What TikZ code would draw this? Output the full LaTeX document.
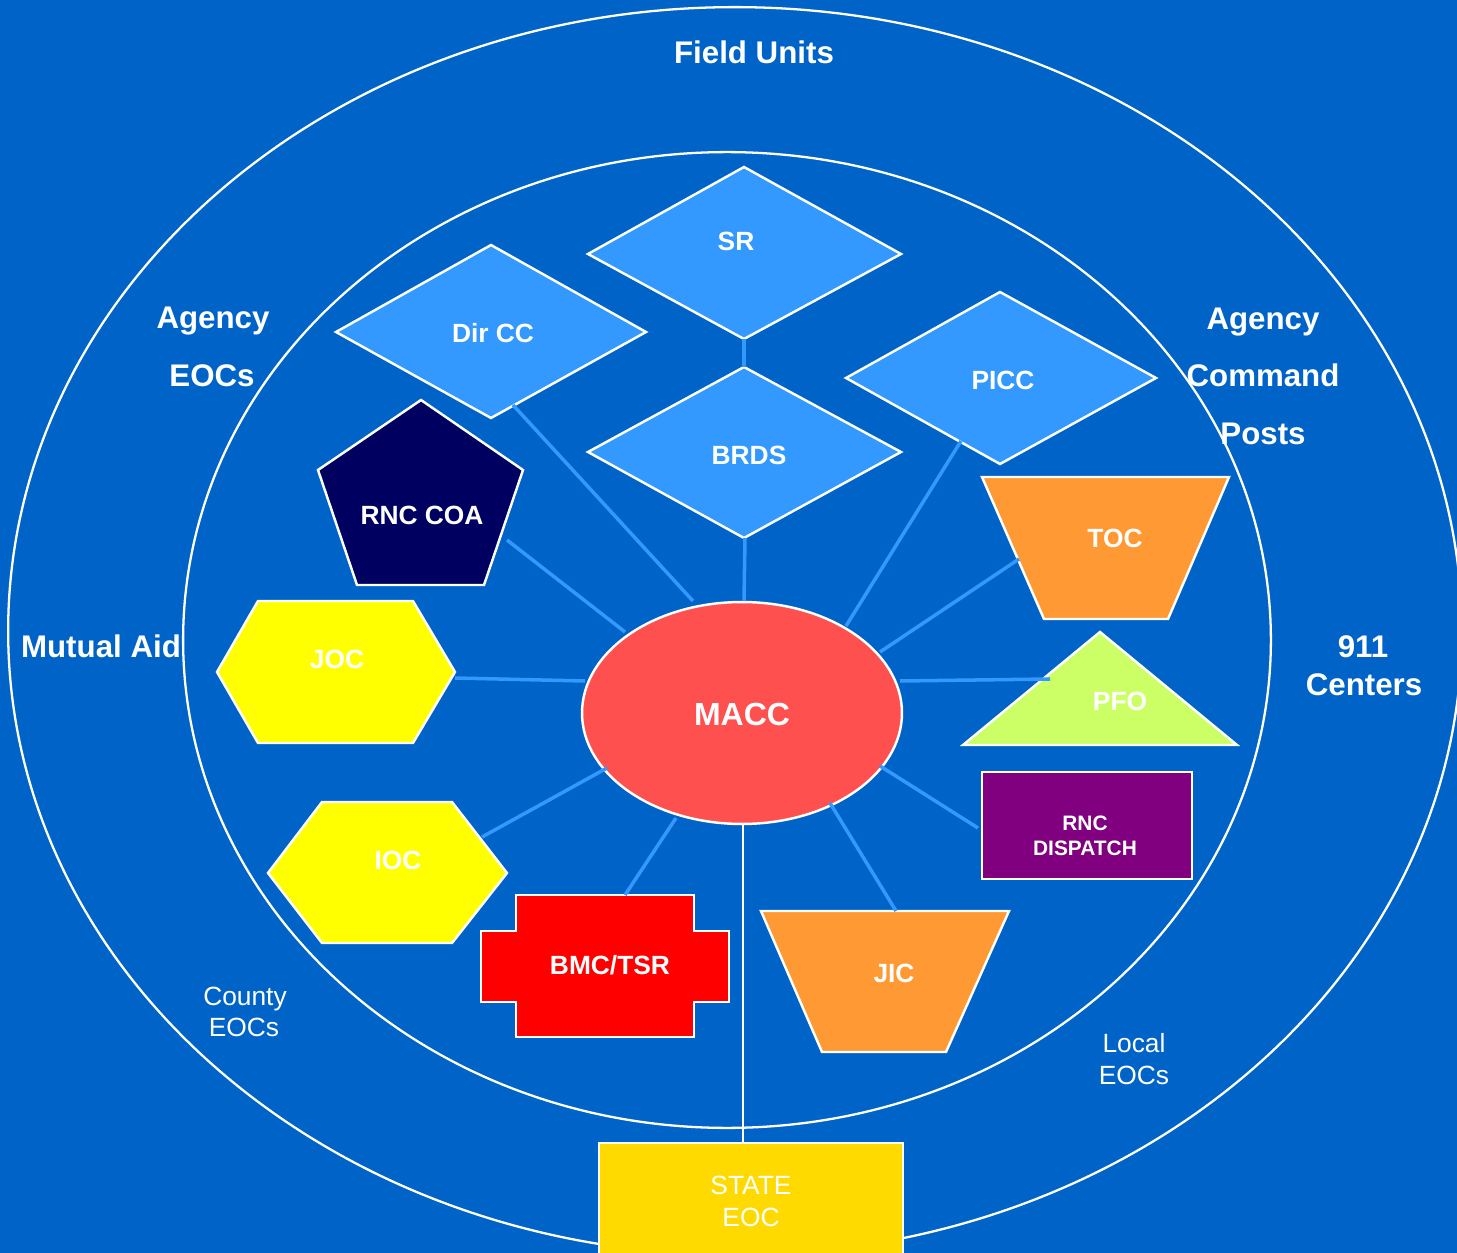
\documentclass[tikz,border=0pt]{standalone}
\usepackage{fontspec}
\setmainfont{Liberation Sans}
\definecolor{bgblue}{RGB}{0,99,200}
\definecolor{dblue}{RGB}{51,153,255}
\definecolor{linkblue}{RGB}{51,153,255}
\definecolor{navy}{RGB}{0,0,96}
\definecolor{hexyellow}{RGB}{255,255,0}
\definecolor{trorange}{RGB}{255,153,51}
\definecolor{pfogreen}{RGB}{204,255,102}
\definecolor{purp}{RGB}{128,0,128}
\definecolor{bmcred}{RGB}{255,0,0}
\definecolor{macc}{RGB}{255,80,80}
\definecolor{gold}{RGB}{255,218,0}
\begin{document}
\begin{tikzpicture}[x=0.02cm,y=-0.02cm,
  area/.style={text=white, font=\fontsize{17.8}{20}\selectfont\bfseries, anchor=base, inner sep=0pt},
  lbl/.style={text=white, font=\fontsize{15}{18}\selectfont\bfseries, text depth=0pt, inner sep=0pt},
  small/.style={text=white, font=\fontsize{11.9}{14}\selectfont\bfseries, anchor=base, inner sep=0pt},
  plain/.style={text=white, font=\fontsize{15}{17}\selectfont, anchor=base, inner sep=0pt},
  shp/.style={draw=white, line width=1.4pt, line join=miter},
  ring/.style={draw=white, line width=1.3pt},
  link/.style={draw=linkblue, line width=2pt},
  wlink/.style={draw=white, line width=1.2pt}]
\useasboundingbox (0,0) rectangle (1457,1253);
\fill[bgblue] (0,0) rectangle (1457,1253);
\clip (0,0) rectangle (1457,1253);

% rings
\draw[ring] (735,631) ellipse [x radius=14.54cm, y radius=12.48cm];
\draw[ring] (727,640) ellipse [x radius=10.88cm, y radius=9.76cm];

% area labels
\node[area] (fieldunits) at (754,64) {Field Units};
\node[area] (agL1) at (213,329) {Agency};
\node[area] (agL2) at (212,387) {EOCs};
\node[area] (agR1) at (1263,330) {Agency};
\node[area] (agR2) at (1263,387) {Command};
\node[area] (agR3) at (1263,444) {Posts};
\node[area] (mutual) at (101,657) {Mutual Aid};
\node[area] (c911a) at (1363,657) {911};
\node[area] (c911b) at (1364,695) {Centers};
\node[plain] (county1) at (245,1005) {County};
\node[plain] (county2) at (244,1036) {EOCs};
\node[plain] (local1) at (1134,1052) {Local};
\node[plain] (local2) at (1134,1084) {EOCs};

% shapes
\draw[shp, fill=dblue] (744,167) -- (901,254) -- (744,339) -- (588,254) -- cycle;
\draw[shp, fill=dblue] (491,245) -- (646,332) -- (491,418) -- (336,332) -- cycle;
\draw[shp, fill=dblue] (744,367) -- (901,452) -- (744,538) -- (588,452) -- cycle;
\draw[shp, fill=dblue] (1000,292) -- (1156,378) -- (1000,464) -- (846,378) -- cycle;
\draw[shp, fill=navy] (421,400) -- (523,470) -- (484,585) -- (357,585) -- (318,470) -- cycle;
\draw[shp, fill=hexyellow] (258,601) -- (413,601) -- (455,672) -- (413,743) -- (258,743) -- (217,672) -- cycle;
\draw[shp, fill=hexyellow] (322,802) -- (452,802) -- (507,873) -- (452,943) -- (322,943) -- (268,873) -- cycle;
\draw[shp, fill=trorange] (982,477) -- (1229,477) -- (1168,619) -- (1044,619) -- cycle;
\draw[shp, fill=pfogreen] (1100,632) -- (1237,745) -- (963,745) -- cycle;
\draw[shp, fill=purp] (982,772) rectangle (1192,879);
\draw[shp, fill=bmcred] (516,895) -- (694,895) -- (694,931) -- (729,931) -- (729,1002) -- (694,1002) -- (694,1037) -- (516,1037) -- (516,1002) -- (481,1002) -- (481,931) -- (516,931) -- cycle;
\draw[shp, fill=trorange] (761,911) -- (1009,911) -- (946,1052) -- (822,1052) -- cycle;
\draw[shp, fill=macc] (742,713) ellipse [x radius=3.2cm, y radius=2.22cm];
\draw[shp, fill=gold] (599,1143) rectangle (903,1270);

% connector end points
\coordinate (sr-b) at (744,339);
\coordinate (brds-t) at (744,367);
\coordinate (dircc-e) at (513,405);
\coordinate (m-dircc) at (693,601);
\coordinate (brds-e) at (745,538);
\coordinate (m-brds) at (744,601);
\coordinate (picc-e) at (961,441);
\coordinate (m-picc) at (846,626);
\coordinate (coa-e) at (507,540);
\coordinate (m-coa) at (625,632);
\coordinate (joc-e) at (455,678);
\coordinate (m-joc) at (585,681);
\coordinate (ioc-e) at (482,837);
\coordinate (m-ioc) at (607,768);
\coordinate (bmc-e) at (625,895);
\coordinate (m-bmc) at (676,818);
\coordinate (jic-e) at (896,911);
\coordinate (m-jic) at (830,803);
\coordinate (rncd-e) at (978,828);
\coordinate (m-rncd) at (880,766);
\coordinate (pfo-e) at (1050,679);
\coordinate (m-pfo) at (900,681);
\coordinate (toc-e) at (1019,559);
\coordinate (m-toc) at (880,652);
\coordinate (m-state) at (743,825);
\coordinate (state-t) at (743,1143);

% connectors
\draw[link] (sr-b) -- (brds-t);
\draw[link] (dircc-e) -- (m-dircc);
\draw[link] (brds-e) -- (m-brds);
\draw[link] (picc-e) -- (m-picc);
\draw[link] (coa-e) -- (m-coa);
\draw[link] (joc-e) -- (m-joc);
\draw[link] (ioc-e) -- (m-ioc);
\draw[link] (bmc-e) -- (m-bmc);
\draw[link] (jic-e) -- (m-jic);
\draw[link] (rncd-e) -- (m-rncd);
\draw[link] (pfo-e) -- (m-pfo);
\draw[link] (toc-e) -- (m-toc);
\draw[wlink] (m-state) -- (state-t);

% shape labels
\node[lbl] (sr) at (736,241) {SR};
\node[lbl] (dircc) at (493,333) {Dir CC};
\node[lbl] (brds) at (749,455) {BRDS};
\node[lbl] (picc) at (1003,380) {PICC};
\node[lbl] (rnccoa) at (422,515) {RNC COA};
\node[lbl] (joc) at (337,659) {JOC};
\node[lbl] (ioc) at (398,860) {IOC};
\node[lbl, font=\fontsize{18.2}{21}\selectfont\bfseries] (maccl) at (742,714) {MACC};
\node[lbl] (toc) at (1115,538) {TOC};
\node[lbl] (pfo) at (1120,701) {PFO};
\node[lbl] (bmc) at (610,965) {BMC/TSR};
\node[lbl] (jic) at (894,973) {JIC};
\node[small] (rncd1) at (1085,830) {RNC};
\node[small] (rncd2) at (1085,855) {DISPATCH};
\node[plain] (state1) at (751,1194) {STATE};
\node[plain] (state2) at (751,1226) {EOC};
\end{tikzpicture}
\end{document}
